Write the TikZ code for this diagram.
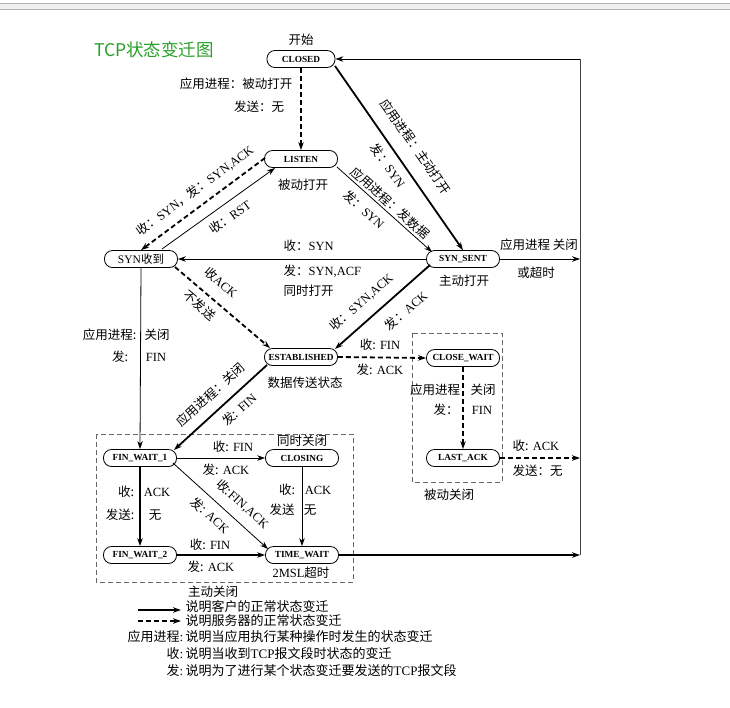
\documentclass[tikz,border=0pt]{standalone}
\usepackage{fontspec}
\setmainfont{Liberation Serif}
\newfontfamily\zhfont{Noto Sans CJK SC}
\newcommand\zh[1]{{\zhfont #1}}
\usetikzlibrary{arrows.meta,calc}
\definecolor{titlegreen}{RGB}{40,160,40}
\begin{document}
\begin{tikzpicture}[x=1pt,y=-1pt,
  state/.style={draw, rounded corners=8pt, minimum width=73pt, minimum height=17pt, inner sep=1pt,
    font=\fontsize{9.3}{10}\selectfont\bfseries, line width=0.8pt},
  lbl/.style={font=\fontsize{12.5}{14}\selectfont, inner sep=0.5pt},
  leg/.style={font=\fontsize{13}{14}\selectfont, inner sep=0.5pt},
  tipx/.style={-{Stealth[length=8pt,width=5.5pt]}},
  cli/.style={tipx, line width=1.8pt},
  srv/.style={tipx, line width=1.8pt, dash pattern=on 5pt off 3pt},
  nrm/.style={tipx, line width=0.8pt},
  grp/.style={draw=black!60, dash pattern=on 5pt off 3pt, line width=0.8pt},
]
\useasboundingbox (0,0) rectangle (730,707);
% top bar
\draw[draw=black!30, fill=black!6] (-1,3) rectangle (731,9);

% title
\node[font=\zhfont\fontsize{17.5}{19}\selectfont, text=titlegreen] (title) at (154,50) {TCP状态变迁图};

% states
\node[state, minimum width=68pt] (CLOSED) at (301,59) {CLOSED};
\node[state] (LISTEN) at (301,159) {LISTEN};
\node[state, font=\fontsize{11.5}{12}\selectfont] (SYNR) at (141,259) {SYN\zh{收到}};
\node[state] (SYNS) at (463,259) {SYN\_SENT};
\node[state] (EST) at (301,357) {ESTABLISHED};
\node[state] (CW) at (463,358) {CLOSE\_WAIT};
\node[state] (LA) at (463,458) {LAST\_ACK};
\node[state] (FW1) at (140,458) {FIN\_WAIT\_1};
\node[state] (CLOSING) at (302,458) {CLOSING};
\node[state] (FW2) at (140,555) {FIN\_WAIT\_2};
\node[state] (TW) at (302,555) {TIME\_WAIT};

% right return line
\coordinate (RT) at (580,59);
\coordinate (R1) at (580,259);
\coordinate (R2) at (580,458);
\coordinate (RB) at (580,555);
\draw[line width=1pt, black!75] (RB) -- (RT);
\draw[nrm] (RT) -- (CLOSED.east);

% group boxes
\draw[grp] (412,333) rectangle (502,482);
\draw[grp] (96,434) rectangle (353,582);

% state annotations
\node[lbl] (tStart) at (301,40) {\zh{开始}};
\node[lbl] (tPO) at (303,185) {\zh{被动打开}};
\node[lbl] (tAO) at (464,281) {\zh{主动打开}};
\node[lbl] (tData) at (305,383) {\zh{数据传送状态}};
\node[lbl] (tPC) at (449,495) {\zh{被动关闭}};
\node[lbl] (tSC) at (302,441) {\zh{同时关闭}};
\node[lbl] (tMSL) at (301,573) {2MSL\zh{超时}};
\node[lbl] (tAC) at (213,592) {\zh{主动关闭}};

% CLOSED -> LISTEN
\draw[srv] (CLOSED.south) -- (LISTEN.north);
\node[lbl] (e1a) at (236,84) {\zh{应用进程：被动打开}};
\node[lbl] (e1b) at (259,107) {\zh{发送：无}};

% CLOSED -> SYN_SENT
\draw[cli] ($(CLOSED)+(34,7)$) -- (SYNS.north)
  node[lbl, sloped, pos=0.5, above=13pt] (e2a) {\zh{应用进程：主动打开}}
  node[lbl, sloped, pos=0.5, below=6pt] (e2b) {\zh{发：}SYN};

% LISTEN -> SYN received
\draw[srv] ($(LISTEN)+(-36,-1)$) -- (SYNR.north)
  node[lbl, sloped, pos=0.49, above=8pt] (e3) {\zh{收：}SYN\zh{，发：}SYN,ACK};

% SYN received -> LISTEN
\draw[nrm] ($(SYNR)+(21,-10)$) -- ($(LISTEN)+(-26,9)$)
  node[lbl, sloped, pos=0.53, below=7pt] (e4) {\zh{收：}RST};

% LISTEN -> SYN_SENT
\draw[nrm] ($(LISTEN)+(36,8)$) -- ($(SYNS)+(-31,-7)$)
  node[lbl, sloped, pos=0.5, above=2pt] (e5a) {\zh{应用进程：发数据}}
  node[lbl, sloped, pos=0.38, below=7pt] (e5b) {\zh{发：}SYN};

% SYN_SENT -> SYN received
\draw[nrm] (SYNS.west) -- (SYNR.east);
\node[lbl, anchor=west] (e6a) at (283,246) {\zh{收：}SYN};
\node[lbl, anchor=west] (e6b) at (283,271) {\zh{发：}SYN,ACF};
\node[lbl, anchor=west] (e6c) at (283,291) {\zh{同时打开}};

% SYN received -> ESTABLISHED
\draw[srv] ($(SYNR)+(34,8)$) -- ($(EST)+(-31,-9)$)
  node[lbl, sloped, pos=0.36, above=11pt] (e7a) {\zh{收}ACK}
  node[lbl, sloped, pos=0.35, below=6pt] (e7b) {\zh{不发送}};

% SYN_SENT -> ESTABLISHED
\draw[cli] ($(SYNS)+(-33,6)$) -- ($(EST)+(34,-8)$)
  node[lbl, sloped, pos=0.6, above=10pt] (e8a) {\zh{收：}SYN,ACK}
  node[lbl, sloped, pos=0.38, below=11pt] (e8b) {\zh{发：}ACK};

% SYN_SENT -> CLOSED (via right line)
\draw[nrm] (SYNS.east) -- (R1);
\node[lbl] (e9a) at (539,245) {\zh{应用进程 关闭}};
\node[lbl] (e9b) at (536,273) {\zh{或超时}};

% ESTABLISHED -> CLOSE_WAIT
\draw[srv] (EST.east) -- (CW.west);
\node[lbl] (e10a) at (380,345) {\zh{收:} FIN};
\node[lbl] (e10b) at (380,370) {\zh{发:} ACK};

% CLOSE_WAIT -> LAST_ACK
\draw[srv] (CW.south) -- (LA.north);
\node[lbl] (e11a) at (435,390) {\zh{应用进程}};
\node[lbl] (e11b) at (483,390) {\zh{关闭}};
\node[lbl] (e11c) at (446,410) {\zh{发：}};
\node[lbl] (e11d) at (482,410) {FIN};

% LAST_ACK -> CLOSED
\draw[srv] (LA.east) -- (R2);
\node[lbl, anchor=west] (e12a) at (512,446) {\zh{收:} ACK};
\node[lbl, anchor=west] (e12b) at (512,471) {\zh{发送：无}};

% SYN received -> FIN_WAIT_1
\draw[nrm] (SYNR.south) -- (FW1.north);
\node[lbl, anchor=east] (e13a) at (137,335) {\zh{应用进程:}};
\node[lbl] (e13b) at (157,335) {\zh{关闭}};
\node[lbl] (e13c) at (120,357) {\zh{发:}};
\node[lbl] (e13d) at (156,357) {FIN};

% ESTABLISHED -> FIN_WAIT_1
\draw[cli] ($(EST)+(-34,8)$) -- ($(FW1)+(34,-8)$)
  node[lbl, sloped, pos=0.49, above=9pt] (e14a) {\zh{应用进程：关闭}}
  node[lbl, sloped, pos=0.4, below=7pt] (e14b) {\zh{发:} FIN};

% FIN_WAIT_1 -> CLOSING
\draw[nrm] (FW1.east) -- (CLOSING.west);
\node[lbl] (e15a) at (233,447) {\zh{收:} FIN};
\node[lbl] (e15b) at (226,470) {\zh{发:} ACK};

% FIN_WAIT_1 -> FIN_WAIT_2
\draw[cli] (FW1.south) -- (FW2.north);
\node[lbl] (e16a) at (126,492) {\zh{收:}};
\node[lbl] (e16b) at (157,492) {ACK};
\node[lbl] (e16c) at (120,515) {\zh{发送:}};
\node[lbl] (e16d) at (155,515) {\zh{无}};

% FIN_WAIT_1 -> TIME_WAIT
\draw[nrm] ($(FW1)+(33,5)$) -- ($(TW)+(-34,-6)$)
  node[lbl, sloped, pos=0.62, above=9pt] (e17a) {\zh{收:}FIN,ACK}
  node[lbl, sloped, pos=0.49, below=7pt] (e17b) {\zh{发:} ACK};

% CLOSING -> TIME_WAIT
\draw[nrm] (CLOSING.south) -- (TW.north);
\node[lbl] (e18a) at (287,490) {\zh{收:}};
\node[lbl] (e18b) at (318,490) {ACK};
\node[lbl] (e18c) at (282,510) {\zh{发送}};
\node[lbl] (e18d) at (310,510) {\zh{无}};

% FIN_WAIT_2 -> TIME_WAIT
\draw[cli] (FW2.east) -- (TW.west);
\node[lbl] (e19a) at (210,545) {\zh{收:} FIN};
\node[lbl] (e19b) at (211,567) {\zh{发:} ACK};

% TIME_WAIT -> CLOSED
\draw[cli] (TW.east) -- (RB);

% legend
\coordinate (g1s) at (138,610);
\coordinate (g1e) at (181,610);
\coordinate (g2s) at (138,621);
\coordinate (g2e) at (181,621);
\draw[cli] (g1s) -- (g1e);
\draw[srv] (g2s) -- (g2e);
\node[leg, anchor=west] (g1) at (185,607) {\zh{说明客户的正常状态变迁}};
\node[leg, anchor=west] (g2) at (185,621) {\zh{说明服务器的正常状态变迁}};
\node[leg, anchor=east] (g3k) at (184,637) {\zh{应用进程}:};
\node[leg, anchor=west] (g3) at (185,637) {\zh{说明当应用执行某种操作时发生的状态变迁}};
\node[leg, anchor=east] (g4k) at (184,654) {\zh{收}:};
\node[leg, anchor=west] (g4) at (185,654) {\zh{说明当收到}TCP\zh{报文段时状态的变迁}};
\node[leg, anchor=east] (g5k) at (184,671) {\zh{发}:};
\node[leg, anchor=west] (g5) at (185,671) {\zh{说明为了进行某个状态变迁要发送的}TCP\zh{报文段}};
\end{tikzpicture}
\end{document}
